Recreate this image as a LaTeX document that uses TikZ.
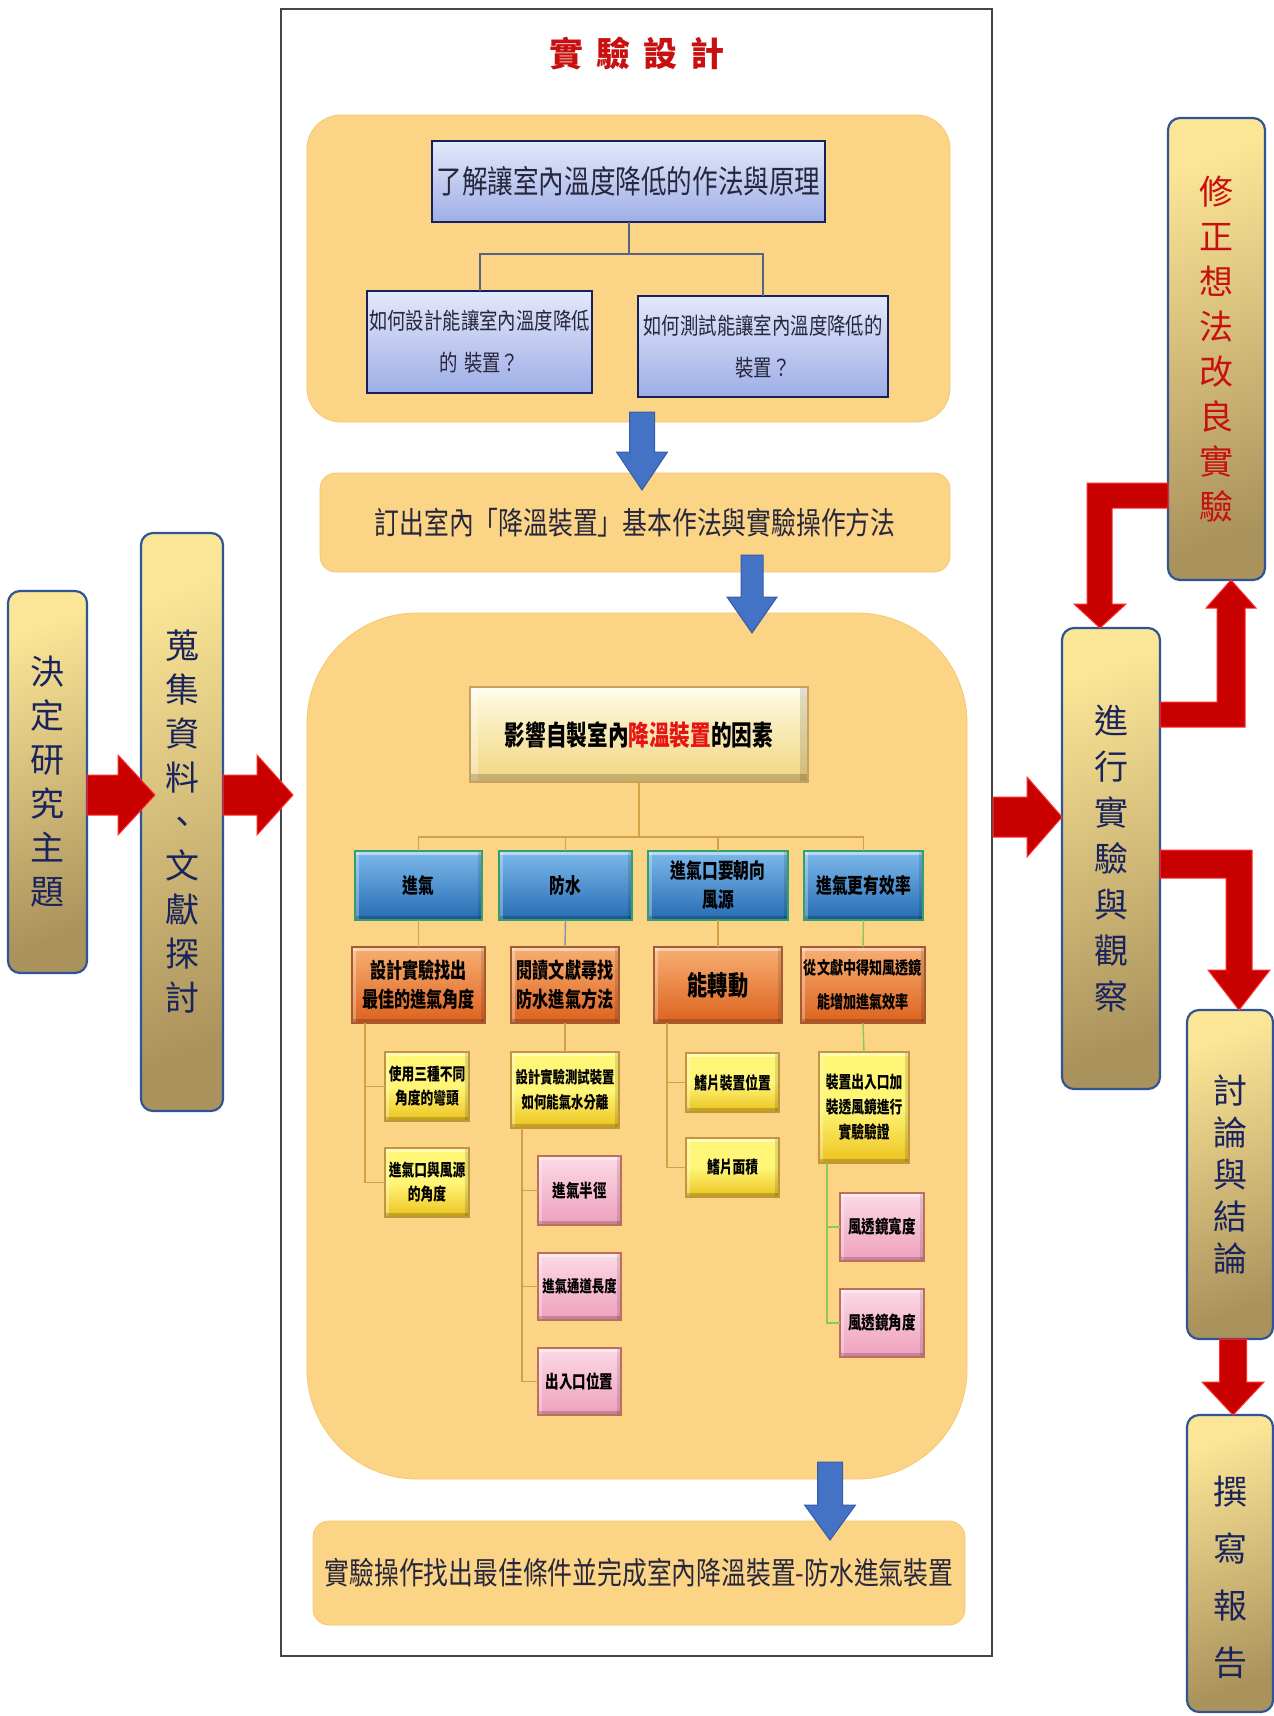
\documentclass[tikz,border=0pt]{standalone}
\usepackage{fontspec}
\newfontfamily\cjk{Noto Sans CJK TC}
\newfontfamily\cjkc[FakeStretch=0.8]{Noto Sans CJK TC}
\newfontfamily\cjkb[FakeStretch=0.75]{Noto Sans CJK TC}
\usetikzlibrary{calc}
\definecolor{grpfill}{RGB}{251,212,134}
\definecolor{grpedge}{RGB}{245,200,110}
\definecolor{qtop}{RGB}{228,232,250}
\definecolor{qbot}{RGB}{158,174,230}
\definecolor{qedge}{RGB}{22,32,92}
\definecolor{qtext}{RGB}{38,38,60}
\definecolor{qline}{RGB}{85,100,135}
\definecolor{btop}{RGB}{125,185,235}
\definecolor{bbot}{RGB}{38,108,178}
\definecolor{bedge}{RGB}{50,160,110}
\definecolor{otop}{RGB}{248,175,115}
\definecolor{obot}{RGB}{220,98,30}
\definecolor{oedge}{RGB}{165,90,50}
\definecolor{ytop}{RGB}{255,246,120}
\definecolor{ybot}{RGB}{236,194,30}
\definecolor{yedge}{RGB}{195,150,60}
\definecolor{ptop}{RGB}{252,218,230}
\definecolor{pbot}{RGB}{238,160,188}
\definecolor{pedge}{RGB}{190,110,90}
\definecolor{ttop}{RGB}{255,251,228}
\definecolor{tbot}{RGB}{240,214,128}
\definecolor{tedge}{RGB}{200,160,95}
\definecolor{tanline}{RGB}{212,160,70}
\definecolor{grnline}{RGB}{140,200,85}
\definecolor{proctop}{RGB}{251,229,150}
\definecolor{procbot}{RGB}{170,146,92}
\definecolor{procedge}{RGB}{47,85,151}
\definecolor{proctext}{RGB}{26,36,92}
\definecolor{arrred}{RGB}{200,0,0}
\definecolor{arrredge}{RGB}{255,45,45}
\definecolor{arrblue}{RGB}{68,114,196}
\definecolor{arrbedge}{RGB}{52,92,172}
\definecolor{ttlred}{RGB}{200,16,16}
\definecolor{framecol}{RGB}{70,70,70}
\definecolor{redtxt}{RGB}{230,20,20}
% name, style, x1, y1, x2, y2, text
\newcommand\mkbox[7]{\node[inner sep=0pt, outer sep=0pt, #2, minimum width={(#5-#3)*1pt}, minimum height={(#6-#4)*1pt}] (#1) at ({(#3+#5)/2},{(#4+#6)/2}) {#7};}
% style, x, ystart, ybase, ytip, shaft half, head half
\newcommand\varrow[7]{\draw[#1] ({#2-#6},#3) -- ({#2+#6},#3) -- ({#2+#6},#4) -- ({#2+#7},#4) -- (#2,#5) -- ({#2-#7},#4) -- ({#2-#6},#4) -- cycle;}
% style, y, xstart, xbase, xtip, shaft half, head half
\newcommand\harrow[7]{\draw[#1] (#3,{#2-#6}) -- (#4,{#2-#6}) -- (#4,{#2-#7}) -- (#5,#2) -- (#4,{#2+#7}) -- (#4,{#2+#6}) -- (#3,{#2+#6}) -- cycle;}
\begin{document}
\begin{tikzpicture}[x=1pt,y=-1pt,
  grp/.style={fill=grpfill, draw=grpedge, line width=0.8, rounded corners=#1},
  grp/.default=14,
  qbox/.style={draw=qedge, line width=2.5, top color=qtop, bottom color=qbot, text=qtext, align=center},
  bevel/.style={path picture={
     \fill[white,opacity=.45] (path picture bounding box.north west) rectangle ([yshift=-#1]path picture bounding box.north east);
     \fill[white,opacity=.30] (path picture bounding box.north west) rectangle ([xshift=#1]path picture bounding box.south west);
     \fill[black,opacity=.18] (path picture bounding box.south west) rectangle ([yshift=#1]path picture bounding box.south east);
     \fill[black,opacity=.12] (path picture bounding box.north east) rectangle ([xshift=-#1]path picture bounding box.south east);}},
  bevel/.default=4pt,
  inner/.style={line width=1.2, align=center, text=black, bevel},
  ttlbx/.style={inner, draw=tedge, top color=ttop, bottom color=tbot, bevel=8pt, font={\cjkb\bfseries\fontsize{27.5}{30}\selectfont}},
  bluebx/.style={inner, draw=bedge, top color=btop, bottom color=bbot, font={\cjkb\bfseries\fontsize{21}{29}\selectfont}},
  orbx/.style={inner, draw=oedge, top color=otop, bottom color=obot, font={\cjkb\bfseries\fontsize{21.5}{29}\selectfont}},
  yelbx/.style={inner, draw=yedge, top color=ytop, bottom color=ybot, middle color=ytop, font={\cjkb\bfseries\fontsize{17}{24}\selectfont}},
  pinkbx/.style={inner, draw=pedge, top color=ptop, bottom color=pbot, font={\cjkb\bfseries\fontsize{18}{24}\selectfont}},
  qline/.style={draw=qline, line width=2},
  tline/.style={draw=tanline, line width=1.4},
  gline/.style={draw=grnline, line width=1.4},
  proc/.style={draw=procedge, line width=2.2, rounded corners=12, top color=proctop, bottom color=procbot, shading angle=20, text=proctext, align=center},
  redarr/.style={fill=arrred, draw=arrredge, line width=1},
  bluearr/.style={fill=arrblue, draw=arrbedge, line width=1}
]
\useasboundingbox (0,0) rectangle (1274,1716);
\fill[white] (0,0) rectangle (1274,1716);

% frame
\mkbox{frame}{draw=framecol, line width=1.5}{281}{9}{992}{1656}{}
\node[text=ttlred, font={\cjk\bfseries\fontsize{34}{40}\selectfont}] (title) at (637,53) {實\hspace{13pt}驗\hspace{13pt}設\hspace{13pt}計};

% top group
\mkbox{g1}{grp=34}{307}{115}{950}{422}{}
\mkbox{q0}{qbox, font={\cjkc\fontsize{32}{38}\selectfont}}{432}{141}{825}{222}{了解讓室內溫度降低的作法與原理}
\mkbox{q1}{qbox, font={\cjkc\fontsize{23}{42}\selectfont}}{367}{291}{592}{393}{如何設計能讓室內溫度降低\\的\hspace{6pt}裝置？}
\mkbox{q2}{qbox, font={\cjkc\fontsize{23}{42}\selectfont}}{638}{296}{888}{397}{如何測試能讓室內溫度降低的\\裝置？}
\draw[qline] (q0.south) -- ++(0,32) -| (q1.north);
\draw[qline] (q0.south) -- ++(0,32) -| (q2.north);

% bar 1
\mkbox{bar1}{grp=16, text=qtext, font={\cjkc\fontsize{31}{36}\selectfont}}{320}{473}{950}{572}{\raisebox{-8pt}{訂出室內「降溫裝置」基本作法與實驗操作方法}}

% big group
\mkbox{g2}{grp=110}{307}{613}{967}{1479}{}
\mkbox{t0}{ttlbx}{470}{687}{808}{782}{影響自製室內\textcolor{redtxt}{降溫裝置}的因素}
\mkbox{b1}{bluebx}{355}{851}{482}{920}{進氣}
\mkbox{b2}{bluebx}{499}{851}{632}{920}{防水}
\mkbox{b3}{bluebx}{648}{851}{788}{920}{進氣口要朝向\\風源}
\mkbox{b4}{bluebx}{804}{851}{923}{920}{進氣更有效率}
\mkbox{o1}{orbx}{352}{947}{485}{1023}{設計實驗找出\\最佳的進氣角度}
\mkbox{o2}{orbx}{511}{947}{619}{1023}{閱讀文獻尋找\\防水進氣方法}
\mkbox{o3}{orbx, font={\cjkb\bfseries\fontsize{27}{29}\selectfont}}{654}{947}{782}{1023}{能轉動}
\mkbox{o4}{orbx, font={\cjkb\bfseries\fontsize{17.5}{34}\selectfont}}{801}{947}{925}{1023}{從文獻中得知風透鏡\\能增加進氣效率}
\mkbox{y1}{yelbx}{385}{1052}{469}{1121}{使用三種不同\\角度的彎頭}
\mkbox{y2}{yelbx}{385}{1148}{469}{1217}{進氣口與風源\\的角度}
\mkbox{y3}{yelbx, font={\cjkb\bfseries\fontsize{16.5}{25}\selectfont}}{511}{1052}{619}{1128}{設計實驗測試裝置\\如何能氣水分離}
\mkbox{y4}{yelbx}{686}{1053}{779}{1112}{鰭片裝置位置}
\mkbox{y5}{yelbx}{686}{1138}{779}{1197}{鰭片面積}
\mkbox{y6}{yelbx, font={\cjkb\bfseries\fontsize{17}{25}\selectfont}}{819}{1052}{909}{1163}{裝置出入口加\\裝透風鏡進行\\實驗驗證}
\mkbox{p1}{pinkbx}{538}{1156}{621}{1225}{進氣半徑}
\mkbox{p2}{pinkbx, font={\cjkb\bfseries\fontsize{16.5}{24}\selectfont}}{538}{1253}{621}{1320}{進氣通道長度}
\mkbox{p3}{pinkbx}{538}{1348}{621}{1415}{出入口位置}
\mkbox{p4}{pinkbx}{840}{1193}{924}{1261}{風透鏡寬度}
\mkbox{p5}{pinkbx}{840}{1289}{924}{1357}{風透鏡角度}
% connectors inside big group
\foreach \b in {b1,b2,b3,b4} {\draw[tline] (t0.south) -- ++(0,55) -| (\b.north);}
\draw[tline] (b1.south) -- (o1.north);
\draw[draw=qline!70, line width=1.4] (b2.south) -- (o2.north);
\draw[tline] (b3.south) -- (o3.north);
\draw[gline] (b4.south) -- (o4.north);
\draw[tline] ([xshift=13pt]o1.south west) |- (y1.west);
\draw[tline] ([xshift=13pt]o1.south west) |- (y2.west);
\draw[tline] (o2.south) -- (y3.north);
\draw[tline] ([xshift=11pt]y3.south west) |- (p1.west);
\draw[tline] ([xshift=11pt]y3.south west) |- (p2.west);
\draw[tline] ([xshift=11pt]y3.south west) |- (p3.west);
\draw[tline] ([xshift=13pt]o3.south west) |- (y4.west);
\draw[tline] ([xshift=13pt]o3.south west) |- (y5.west);
\draw[gline] (o4.south) -- (y6.north);
\draw[gline] ([xshift=8pt]y6.south west) |- (p4.west);
\draw[gline] ([xshift=8pt]y6.south west) |- (p5.west);

% bar 2
\mkbox{bar2}{grp=16, text=qtext, font={\cjkc\fontsize{31}{36}\selectfont}}{313}{1521}{965}{1625}{實驗操作找出最佳條件並完成室內降溫裝置-防水進氣裝置}

% blue arrows
\varrow{bluearr}{642}{412}{452}{490}{12.5}{25.5}
\varrow{bluearr}{752}{555}{597}{633}{11}{25}
\varrow{bluearr}{830}{1462}{1505}{1540}{12.5}{25.5}

% left process boxes
\mkbox{L1}{proc, font={\cjk\fontsize{34}{44}\selectfont}}{8}{591}{87}{973}{決\\定\\研\\究\\主\\題}
\mkbox{L2}{proc, font={\cjk\fontsize{34}{44}\selectfont}}{141}{533}{223}{1111}{蒐\\集\\資\\料\\、\\文\\獻\\探\\討}
\harrow{redarr}{795}{87}{118}{155}{20}{40}
\harrow{redarr}{795}{223}{257}{293}{20}{40}

% right process boxes
\mkbox{M}{proc, text=ttlred, font={\cjk\fontsize{34}{45}\selectfont}}{1168}{118}{1265}{580}{修\\正\\想\\法\\改\\良\\實\\驗}
\mkbox{K}{proc, font={\cjk\fontsize{34}{46}\selectfont}}{1062}{628}{1160}{1089}{進\\行\\實\\驗\\與\\觀\\察}
\mkbox{D}{proc, font={\cjk\fontsize{34}{42}\selectfont}}{1187}{1010}{1273}{1339}{討\\論\\與\\結\\論}
\mkbox{W}{proc}{1187}{1415}{1273}{1712}{}
\node[text=proctext, align=center, font={\cjk\fontsize{34}{57}\selectfont}] (Wtext) at ([yshift=-14pt]W.center) {撰\\寫\\報\\告};

\harrow{redarr}{817}{993}{1027}{1062}{20}{40}
% M -> K (left then down)
\draw[redarr] (1168,483) -- (1087,483) -- (1087,604) -- (1074,604) -- (1100,628) -- (1126,604) -- (1112,604) -- (1112,508) -- (1168,508) -- cycle;
% K -> M (right then up)
\draw[redarr] (1160,727) -- (1245,727) -- (1245,608) -- (1256,608) -- (1231,580) -- (1206,608) -- (1217,608) -- (1217,702) -- (1160,702) -- cycle;
% K -> D (right then down)
\draw[redarr] (1160,850) -- (1252,850) -- (1252,970) -- (1270,970) -- (1239,1010) -- (1208,970) -- (1226,970) -- (1226,878) -- (1160,878) -- cycle;
% D -> W
\varrow{redarr}{1233}{1339}{1382}{1415}{13.5}{31}
\end{tikzpicture}
\end{document}
